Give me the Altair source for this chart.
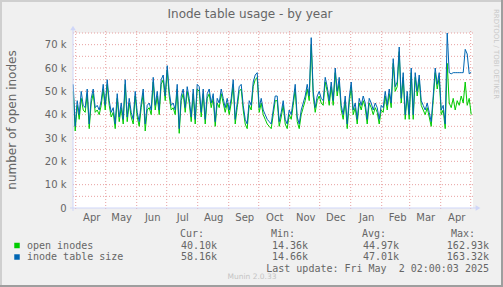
import altair as alt
import pandas as pd

# ---------------- data ----------------
TITLE = "Inode table usage - by year"
Y_TITLE = "number of open inodes"
SERIES = ["open inodes", "inode table size"]
SERIES_COLORS = ["#00CC00", "#0066B3"]
STAT_HEAD = ["Cur:", "Min:", "Avg:", "Max:"]
STATS_OPEN = ["40.10k", "14.36k", "44.97k", "162.93k"]
STATS_SIZE = ["58.16k", "14.66k", "47.01k", "163.32k"]
LAST_UPDATE = "Last update: Fri May\u00a0 2 02:00:03 2025"
FOOTER = "Munin 2.0.33"
SIDE_TEXT = "RRDTOOL / TOBI OETIKER"

# one sample every 2 days starting 2024-03-29 12:00 (values in thousands)
SAMPLE_START = "2024-03-29 12:00:00"
inode_table_size_k = [
    53, 35, 46, 40, 50, 44, 43, 51, 36, 47, 51, 43, 44, 42, 46, 53, 44, 55, 46, 41,
    43, 36, 49, 39, 45, 38, 55, 39, 47, 41, 38, 50, 41, 37,
    45, 51, 36, 44, 45, 42, 56, 44, 50, 42, 55, 57, 48, 61, 50, 44, 45, 42, 53, 34,
    48, 51, 43, 52, 47, 39, 51, 38, 53, 52, 41, 51, 38, 49,
    51, 45, 49, 37, 47, 45, 51, 47, 43, 47, 42, 47, 55, 38, 45, 52, 53, 44, 38, 36,
    46, 44, 54, 57, 58, 43, 47, 42, 40, 38, 37, 36, 42, 48,
    48, 37, 41, 46, 38, 36, 42, 40, 46, 53, 39, 36, 42, 45, 48, 53, 48, 73, 50, 43,
    48, 50, 47, 46, 56, 52, 46, 54, 46, 60, 50, 56, 44, 40,
    48, 36, 47, 54, 42, 45, 38, 47, 44, 48, 45, 38, 47, 45, 42, 45, 43, 38, 44, 43,
    50, 44, 51, 45, 64, 52, 54, 69, 47, 58, 40, 50,
    40, 60, 40, 58, 50, 57, 46, 44, 42, 45, 41, 37, 48, 60, 53, 58, 42, 44, 36, 75,
    58, 57.5, 58, 58, 58, 58, 58, 58, 68, 66, 57.5, 58.2,
]
open_inodes_k = [
    50, 33, 44, 38, 47, 42, 41, 49, 34, 45, 49, 41, 42, 40, 44, 51, 42, 53, 44, 39,
    41, 34, 47, 37, 43, 36, 53, 37, 45, 39, 36, 48, 39, 35,
    43, 49, 33, 42, 43, 40, 54, 42, 48, 40, 53, 55, 46, 59, 48, 42, 43, 40, 51, 32,
    46, 49, 41, 50, 45, 37, 49, 36, 51, 50, 39, 49, 36, 47,
    49, 43, 47, 35, 45, 43, 49, 45, 41, 45, 40, 45, 53, 36, 43, 50, 51, 42, 36, 34,
    44, 42, 52, 55, 56, 41, 45, 40, 38, 36, 35, 34, 40, 46,
    46, 35, 39, 44, 36, 34, 40, 38, 44, 51, 37, 34, 40, 43, 46, 51, 46, 70, 48, 41,
    46, 48, 45, 44, 54, 50, 44, 52, 44, 58, 48, 54, 42, 38,
    46, 34, 45, 52, 40, 43, 36, 45, 42, 46, 43, 36, 45, 43, 40, 43, 41, 36, 42, 41,
    48, 42, 49, 43, 62, 50, 52, 67, 45, 56, 38, 48,
    38, 58, 38, 56, 48, 55, 44, 42, 40, 43, 39, 35, 46, 58, 51, 56, 40, 42, 34, 62,
    45, 43, 47, 42, 46, 44, 48, 45, 54, 44, 47, 40,
]

MONTH_STARTS = [
    "2024-04-01", "2024-05-01", "2024-06-01", "2024-07-01", "2024-08-01",
    "2024-09-01", "2024-10-01", "2024-11-01", "2024-12-01", "2025-01-01",
    "2025-02-01", "2025-03-01", "2025-04-01", "2025-05-01",
]
LABEL_MONTHS = [(2024, m) for m in range(4, 13)] + [(2025, m) for m in range(1, 5)]
Y_LABELS = list(range(0, 80, 10))
Y_GRID = list(range(5, 80, 5))

# ---------------- layout ----------------
W, H = 400, 175
PL, PT = 73, 33
FONT = "DejaVu Sans"
MONO = "DejaVu Sans Mono"
TXT = "#666666"
GRID = "#E8A0A0"
AXIS = "#CFD6F8"

dates = pd.date_range(SAMPLE_START, periods=len(inode_table_size_k), freq="2D")
df_open = pd.DataFrame({"date": dates, "value": open_inodes_k})
df_size = pd.DataFrame({"date": dates, "value": inode_table_size_k})

xscale = alt.Scale(domain=[alt.DateTime(year=2024, month=3, date=29, hours=7),
                           alt.DateTime(year=2025, month=5, date=3, hours=7)])
yscale = alt.Scale(domain=[0, 75], nice=False, zero=True)

xaxis = alt.Axis(
    values=[alt.DateTime(year=y, month=m, date=16, hours=12) for y, m in LABEL_MONTHS],
    labelExpr="timeFormat(datum.value, '%b')", title=None, grid=False, ticks=False,
    domain=False, labelFont=FONT, labelFontSize=10, labelColor=TXT, labelPadding=4,
    labelFlush=False, labelOverlap=False,
)
yaxis = alt.Axis(
    values=Y_LABELS, labelExpr="datum.value == 0 ? '0' : datum.value + ' k'",
    title=None, grid=False, ticks=False, domain=False, labelFont=FONT,
    labelFontSize=10, labelColor=TXT, labelPadding=7,
)

one = pd.DataFrame({"a": [0]})

hgrid = alt.Chart(pd.DataFrame({"v": Y_GRID})).mark_rule(
    color=GRID, strokeDash=[1, 2], strokeWidth=1
).encode(y=alt.Y("v:Q", scale=yscale, axis=yaxis), x=alt.value(0), x2=alt.value(W))

vgrid = alt.Chart(pd.DataFrame({"m": pd.to_datetime(MONTH_STARTS)})).mark_rule(
    color=GRID, strokeDash=[1, 2], strokeWidth=1
).encode(x=alt.X("m:T", scale=xscale, axis=xaxis), y=alt.value(-2), y2=alt.value(H + 3))

line_open = alt.Chart(df_open).mark_line(color=SERIES_COLORS[0], strokeWidth=1).encode(
    x=alt.X("date:T", scale=xscale, axis=xaxis), y=alt.Y("value:Q", scale=yscale, axis=yaxis)
)
line_size = alt.Chart(df_size).mark_line(color=SERIES_COLORS[1], strokeWidth=1).encode(
    x=alt.X("date:T", scale=xscale, axis=xaxis), y=alt.Y("value:Q", scale=yscale, axis=yaxis)
)

# axis lines with arrows
xline = alt.Chart(one).mark_rule(color=AXIS, strokeWidth=1).encode(
    x=alt.value(-3), x2=alt.value(W + 3), y=alt.value(H))
yline = alt.Chart(one).mark_rule(color=AXIS, strokeWidth=1).encode(
    x=alt.value(0), y=alt.value(H + 3), y2=alt.value(-3))
xarrow = alt.Chart(one).mark_point(shape="triangle-right", filled=True, size=30,
                                   color=AXIS, opacity=1).encode(
    x=alt.value(W + 5), y=alt.value(H))
yarrow = alt.Chart(one).mark_point(shape="triangle-up", filled=True, size=30,
                                   color=AXIS, opacity=1).encode(
    x=alt.value(0), y=alt.value(-5))


def text(s, x, y, align="left", font=MONO, size=10, color=TXT, angle=0):
    return alt.Chart(pd.DataFrame({"t": [s]})).mark_text(
        align=align, baseline="middle", font=font, fontSize=size, color=color, angle=angle
    ).encode(x=alt.value(x), y=alt.value(y), text="t:N")


layers = [hgrid, vgrid, line_open, line_size, xline, yline, xarrow, yarrow]

layers.append(text(TITLE, 250 - PL, 13.5 - PT, align="center", font=FONT, size=12))
layers.append(text(Y_TITLE, 12 - PL, 120 - PT, align="center", font=FONT, size=12, angle=270))
layers.append(text(SIDE_TEXT, 496 - PL, 54 - PT, align="center", font=FONT, size=7,
                   color="#C8C8C8", angle=90))

head_right = [204, 295, 386, 475]
val_right = [217, 308, 399, 489]
for h, xr in zip(STAT_HEAD, head_right):
    layers.append(text(h, xr - PL, 233.5 - PT, align="right"))

rows_y = [245.5, 257]
for i, (name, col, stats) in enumerate(zip(SERIES, SERIES_COLORS, [STATS_OPEN, STATS_SIZE])):
    yy = rows_y[i] - PT
    layers.append(alt.Chart(one).mark_square(size=30, color=col, opacity=1).encode(
        x=alt.value(17 - PL), y=alt.value(yy)))
    layers.append(text(name, 27 - PL, yy))
    for s, xr in zip(stats, val_right):
        layers.append(text(s, xr - PL, yy, align="right"))

layers.append(text(LAST_UPDATE, 489 - PL, 269 - PT, align="right"))
layers.append(text(FOOTER, 252 - PL, 276.5 - PT, align="center", font=FONT, size=7.5,
                   color="#C4C4C4"))

# 3D-style frame of the image
layers.append(alt.Chart(one).mark_rule(color="#CFCFCF", strokeWidth=2).encode(
    x=alt.value(-PL), x2=alt.value(503 - PL), y=alt.value(-PT + 1)))
layers.append(alt.Chart(one).mark_rule(color="#CFCFCF", strokeWidth=2).encode(
    x=alt.value(-PL + 1), y=alt.value(-PT), y2=alt.value(287 - PT)))
layers.append(alt.Chart(one).mark_rule(color="#9E9E9E", strokeWidth=2).encode(
    x=alt.value(-PL), x2=alt.value(503 - PL), y=alt.value(287 - PT - 1)))
layers.append(alt.Chart(one).mark_rule(color="#9E9E9E", strokeWidth=2).encode(
    x=alt.value(503 - PL - 1), y=alt.value(-PT), y2=alt.value(287 - PT)))

chart = alt.layer(*layers).properties(
    width=W, height=H,
    padding={"left": PL, "top": PT, "right": 503 - PL - W, "bottom": 287 - PT - H},
    autosize=alt.AutoSizeParams(type="none"),
    background="#F0F0F0",
).configure_view(stroke=None, fill="#FFFFFF")

chart.save("out.html", embed_options={"renderer": "svg", "actions": False})
